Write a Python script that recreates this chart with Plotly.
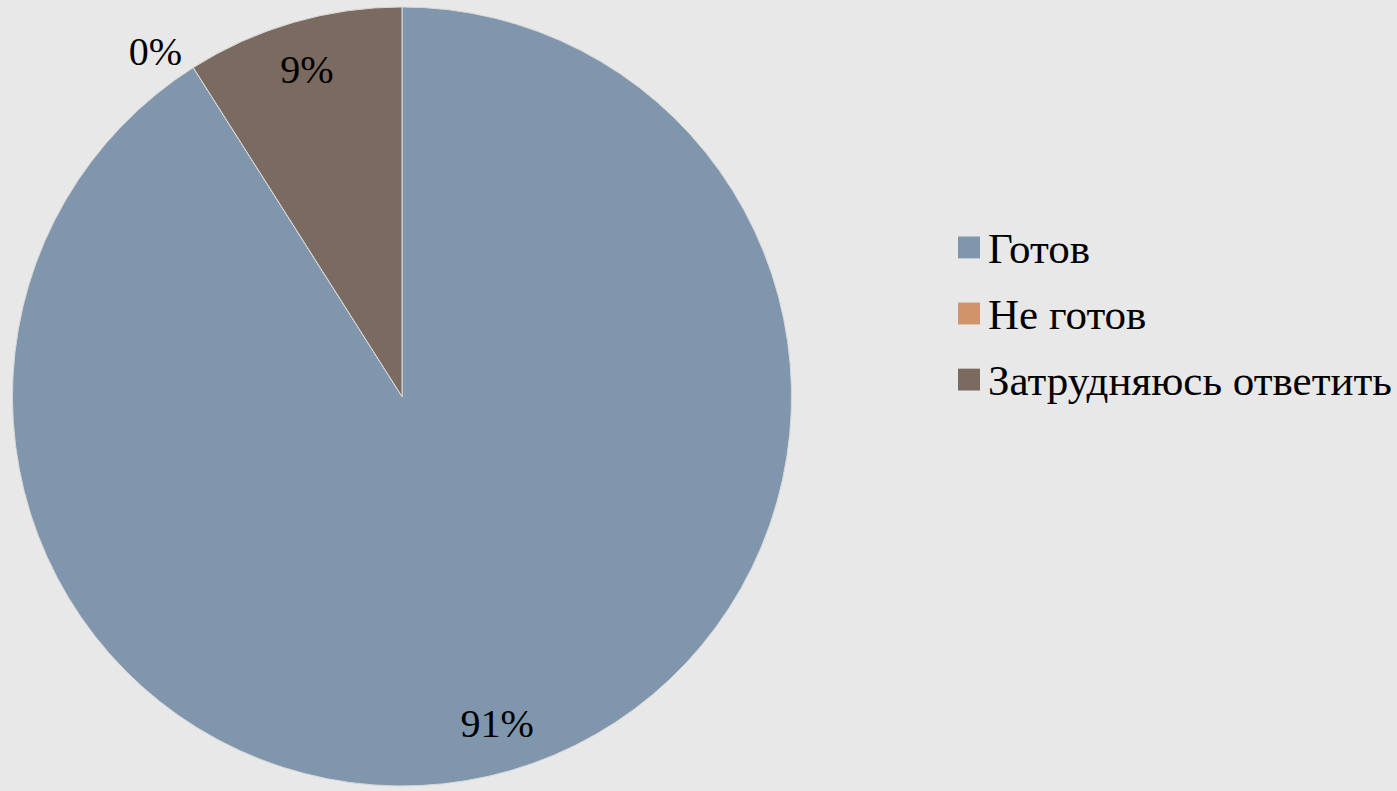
import plotly.graph_objects as go

labels = ["Готов", "Не готов", "Затрудняюсь ответить"]
values = [91, 0, 9]
text_labels = ["91%", "0%", "9%"]
colors = ["#7F96AD", "#D1946A", "#7A6A5F"]

FONT = "Liberation Serif, Times New Roman, DejaVu Serif, serif"
BG = "#E8E8E8"
W, H = 1397, 791
pie_domain = dict(x=[9 / W, 795 / W], y=[0, 1 - 7 / H])

fig = go.Figure()

# coloured slices
fig.add_trace(go.Pie(
    labels=labels, values=values,
    textinfo="none",
    sort=False, direction="clockwise", rotation=0,
    marker=dict(colors=colors, line=dict(color="#D8D8D8", width=1)),
    domain=pie_domain,
    showlegend=False,
    hoverinfo="label+percent",
))

# ring-shaped overlay that carries the percentage labels near the rim
fig.add_trace(go.Pie(
    labels=labels, values=values,
    text=text_labels, textinfo="text",
    textposition=["inside", "outside", "inside"],
    insidetextorientation="horizontal",
    hole=0.75,
    sort=False, direction="clockwise", rotation=0,
    marker=dict(colors=["rgba(0,0,0,0)"] * 3, line=dict(width=0)),
    textfont=dict(family=FONT, size=40, color="#000000"),
    domain=pie_domain,
    showlegend=False,
    hoverinfo="skip",
))

# legend (squares + labels)
row_top = 249
row_step = 66.5
shapes = []
annotations = []
for i, (lab, col) in enumerate(zip(labels, colors)):
    yc = row_top + i * row_step
    shapes.append(dict(
        type="rect", xref="paper", yref="paper",
        x0=958 / W, x1=980 / W,
        y0=1 - (yc + 11) / H, y1=1 - (yc - 11) / H,
        fillcolor=col, line=dict(width=0),
    ))
    annotations.append(dict(
        text=lab, xref="paper", yref="paper",
        x=986 / W, y=1 - (yc + 1) / H,
        xanchor="left", yanchor="middle", showarrow=False,
        font=dict(family=FONT, size=43, color="#000000"),
    ))

fig.update_layout(
    width=W, height=H,
    margin=dict(l=0, r=0, t=0, b=0),
    paper_bgcolor=BG, plot_bgcolor=BG,
    showlegend=False,
    shapes=shapes, annotations=annotations,
)

fig.write_html(
    "out.html",
    config={"displayModeBar": False},
    post_script="document.body.style.margin='0';document.body.style.background='%s';" % BG,
)
